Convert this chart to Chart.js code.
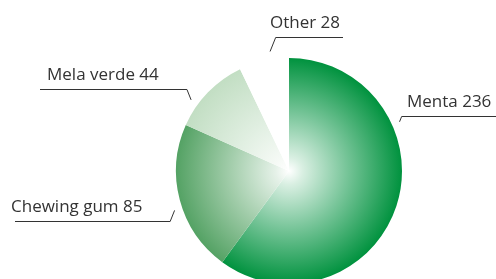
<!DOCTYPE html>
<html>
<head>
<meta charset="utf-8">
<script src="https://cdn.jsdelivr.net/npm/chart.js@4"></script>
<style>
  html, body { margin: 0; padding: 0; background: #fff; overflow: hidden; }
  #chartHolder { position: relative; width: 496px; height: 300px; }
</style>
</head>
<body>
<div id="chartHolder"><canvas id="myChart" width="496" height="300"></canvas></div>
<script>
// data
const labels1 = ['Menta', 'Chewing gum', 'Mela verde', 'Other'];
const data1 = [236, 85, 44, 28];
// outer colour of each slice, the centre always fades to white
const edgeColors = [[0,146,62], [84,162,100], [194,222,195], [255,255,255]];

// where each callout sits (angle from top in degrees, text box), layout only
const callouts = [
  {angle: 66,  gap: 8, dir: 1,  lineTo: 500, textX: 407, textY: 107},
  {angle: 251, gap: 8, dir: -1, lineTo: 15,  textX: 11,  textY: 212},
  {angle: 306, gap: 8, dir: -1, lineTo: 40,  textX: 47,  textY: 80},
  {angle: 351, gap: 8, dir: 1,  lineTo: 343, textX: 270, textY: 28}
];

function mix(col, t){ // t = 0 white, 1 full colour
  let c = col.map(v => Math.round(255 + (v - 255) * t));
  return 'rgb(' + c.join(',') + ')';
}

const calloutPlugin = {
  id: 'callouts',
  afterDraw(chart){
    let ctx = chart.ctx;
    let arcs = chart.getDatasetMeta(0).data;
    ctx.save();
    ctx.font = '17px "Open Sans"';
    ctx.fillStyle = '#333';
    ctx.strokeStyle = '#333';
    ctx.lineWidth = 1;
    arcs.forEach((arc, i) => {
      let c = callouts[i];
      let a = (c.angle - 90) * Math.PI / 180;
      let r = arc.outerRadius + c.gap;
      let x0 = arc.x + Math.cos(a) * r;
      let y0 = arc.y + Math.sin(a) * r;
      // small slanted tick then horizontal line under the text
      let lineY = c.textY + 9.5;
      let x1 = x0 + (c.dir > 0 ? 1 : -1) * Math.abs(y0 - lineY) * 0.4;
      ctx.beginPath();
      ctx.moveTo(x0, y0);
      ctx.lineTo(x1, lineY);
      ctx.lineTo(c.lineTo, lineY);
      ctx.stroke();
      ctx.textBaseline = 'alphabetic';
      ctx.fillText(labels1[i] + ' ' + data1[i], c.textX, c.textY);
    });
    ctx.restore();
  }
};

let myChart1 = document.getElementById('myChart').getContext('2d');

new Chart(myChart1, {
  type: 'pie',
  data: {
    labels: labels1,
    datasets: [{
      data: data1,
      borderWidth: 0,
      backgroundColor: function(context){
        let chart = context.chart;
        let area = chart.chartArea;
        let col = edgeColors[context.dataIndex];
        if(!area) return mix(col, 1);
        let cx = (area.left + area.right) / 2;
        let cy = (area.top + area.bottom) / 2;
        let r = Math.min(area.right - area.left, area.bottom - area.top) / 2;
        let g = chart.ctx.createRadialGradient(cx, cy, 0, cx, cy, r);
        g.addColorStop(0, mix(col, 0));
        g.addColorStop(0.12, mix(col, 0.15));
        g.addColorStop(0.5, mix(col, 0.52));
        g.addColorStop(1, mix(col, 1));
        return g;
      }
    }]
  },
  options: {
    responsive: false,
    animation: false,
    layout: { padding: { top: 58, bottom: 16, left: 176, right: 94 } },
    plugins: {
      legend: { display: false },
      tooltip: { enabled: false }
    }
  },
  plugins: [calloutPlugin]
});
</script>
</body>
</html>
